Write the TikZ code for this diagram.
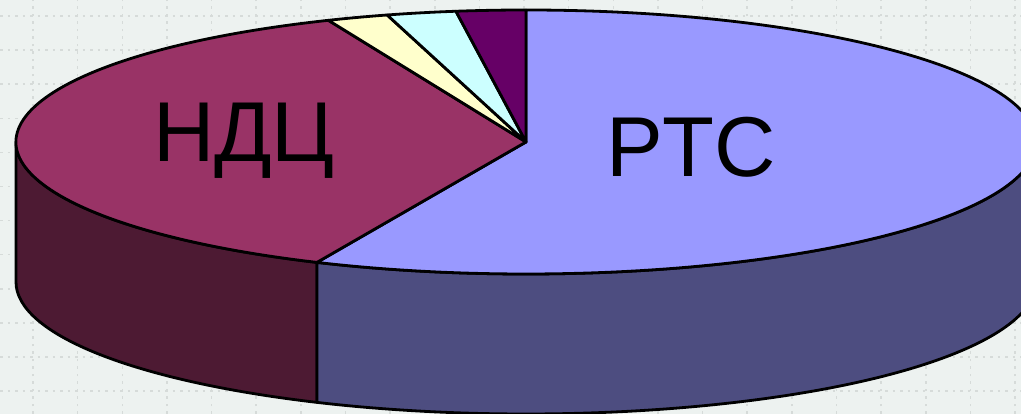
\documentclass[tikz,border=0pt]{standalone}
\usepackage{fontspec}
\usetikzlibrary{calc}
\setmainfont[Kerning=Off]{Liberation Sans}
\definecolor{bgc}{HTML}{EDF2F0}
\definecolor{gridc}{HTML}{D6DBD9}
\definecolor{rtstop}{HTML}{9999FF}
\definecolor{rtsside}{HTML}{4D4D80}
\definecolor{ndctop}{HTML}{993366}
\definecolor{ndcside}{HTML}{4D1A33}
\definecolor{wedgeyellow}{HTML}{FFFFCC}
\definecolor{wedgecyan}{HTML}{CCFFFF}
\definecolor{wedgepurple}{HTML}{660066}
\tikzset{
  pieline/.style={draw=black,line width=2.8pt,line join=round},
  gridh/.style={draw=gridc,line width=1.5pt,dash pattern=on 2.5pt off 5pt},
  gridv/.style={draw=gridc,line width=1.5pt,dash pattern=on 2.5pt off 5pt},
  pielabel/.style={anchor=base west,inner sep=0pt,outer sep=0pt,text=black,font=\fontsize{85}{85}\selectfont}
}
\newcommand{\pieR}{510pt and 132pt}
\begin{document}
\begin{tikzpicture}[x=1pt,y=1pt]
\useasboundingbox (0,0) rectangle (1021,414);
\clip (0,0) rectangle (1021,414);
\fill[bgc] (0,0) rectangle (1021,414);
\foreach \k in {0,...,11} {
  \pgfmathsetmacro{\yy}{414-16-34.1*\k}
  \draw[gridh] (0,\yy) -- (1021,\yy);
}
\foreach \k in {0,...,22} {
  \pgfmathsetmacro{\xx}{33+44.64*\k}
  \draw[gridv] (\xx,0) -- (\xx,414);
}
\coordinate (c) at (526,272);
% sides
\draw[pieline,fill=ndcside] ($(c)+(180:\pieR)$) arc[start angle=180,end angle=245.8,x radius=510pt,y radius=132pt]
   -- ++(0,-140pt) arc[start angle=245.8,end angle=180,x radius=510pt,y radius=132pt] -- cycle;
\draw[pieline,fill=rtsside] ($(c)+(245.8:\pieR)$) arc[start angle=245.8,end angle=360,x radius=510pt,y radius=132pt]
   -- ++(0,-140pt) arc[start angle=360,end angle=245.8,x radius=510pt,y radius=132pt] -- cycle;
% top wedges
\draw[pieline,fill=rtstop] (c) -- ($(c)+(90:\pieR)$) arc[start angle=90,end angle=-114.2,x radius=510pt,y radius=132pt] -- cycle;
\draw[pieline,fill=ndctop] (c) -- ($(c)+(112.8:\pieR)$) arc[start angle=112.8,end angle=245.8,x radius=510pt,y radius=132pt] -- cycle;
\draw[pieline,fill=wedgeyellow] (c) -- ($(c)+(105.8:\pieR)$) arc[start angle=105.8,end angle=112.8,x radius=510pt,y radius=132pt] -- cycle;
\draw[pieline,fill=wedgecyan] (c) -- ($(c)+(97.9:\pieR)$) arc[start angle=97.9,end angle=105.8,x radius=510pt,y radius=132pt] -- cycle;
\draw[pieline,fill=wedgepurple] (c) -- ($(c)+(90:\pieR)$) arc[start angle=90,end angle=97.9,x radius=510pt,y radius=132pt] -- cycle;
% labels
\node[pielabel] (ndc) at (153,252) {НДЦ};
\node[pielabel] (rts) at (606,237) {РТС};
\end{tikzpicture}
\end{document}
